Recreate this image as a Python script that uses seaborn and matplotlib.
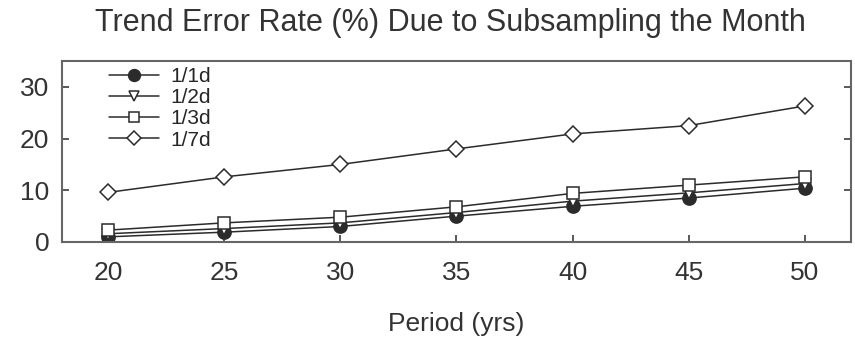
import matplotlib

matplotlib.use("Agg")
import matplotlib.pyplot as plt
import pandas as pd
import seaborn as sns

sns.set_theme(style="ticks")
plt.rcParams["font.family"] = ["Liberation Sans", "DejaVu Sans"]

INK = "#2b2b2b"

periods = [20, 25, 30, 35, 40, 45, 50]
rate_1d = [1.0, 1.9, 3.0, 5.0, 6.9, 8.5, 10.4]
rate_2d = [1.6, 2.6, 3.7, 5.7, 7.9, 9.5, 11.3]
rate_3d = [2.3, 3.7, 4.8, 6.8, 9.4, 11.0, 12.6]
rate_7d = [9.6, 12.6, 15.0, 18.0, 20.9, 22.5, 26.3]
series_names = ["1/1d", "1/2d", "1/3d", "1/7d"]
markers = ["o", "v", "s", "D"]
faces = [INK, "white", "white", "white"]
sizes = [9.5, 8, 8.5, 8.5]

df = pd.DataFrame({"period": periods * 4,
                   "rate": rate_1d + rate_2d + rate_3d + rate_7d,
                   "series": [s for s in series_names for _ in periods]})

fig = plt.figure(figsize=(8.55, 3.37), dpi=100)
ax = fig.add_axes([0.0725, 0.2819, 0.9228, 0.5371])

sns.lineplot(data=df, x="period", y="rate", hue="series", style="series",
             palette=[INK] * 4, markers=markers, dashes=False,
             linewidth=1.1, ax=ax, legend=False)
for line, fc, ms in zip(ax.lines, faces, sizes):
    line.set_markerfacecolor(fc)
    line.set_markeredgecolor(INK)
    line.set_markeredgewidth(1.1)
    line.set_markersize(ms)

handles = [plt.Line2D([], [], color=INK, lw=1.1, marker=m, markerfacecolor=fc,
                      markeredgecolor=INK, markeredgewidth=1.1, markersize=ms - 1)
           for m, fc, ms in zip(markers, faces, sizes)]
ax.legend(handles, series_names, loc="upper left", frameon=False,
          fontsize=15, handlelength=2.4, handletextpad=0.55,
          labelspacing=0.1, borderaxespad=0.0, borderpad=0.0,
          bbox_to_anchor=(0.06, 0.965))

ax.set_xlim(18, 52)
ax.set_ylim(0, 35)
ax.set_xticks(periods)
ax.set_yticks([0, 10, 20, 30])
ax.tick_params(direction="in", length=5, width=1.1, labelsize=19,
               colors=INK, labelcolor="#333333")
ax.tick_params(axis="y", right=True, pad=9)
ax.tick_params(axis="x", pad=14)
for sp in ax.spines.values():
    sp.set_visible(True)
    sp.set_color("#666666")
    sp.set_linewidth(1.5)
ax.set_xlabel("Period (yrs)", fontsize=19, labelpad=19, color="#333333")
ax.set_ylabel("")
fig.text(450 / 855, 1 - 8 / 337,
         "Trend Error Rate (%) Due to Subsampling the Month",
         fontsize=22, ha="center", va="top", color="#333333")

fig.savefig("out.png", dpi=100)
